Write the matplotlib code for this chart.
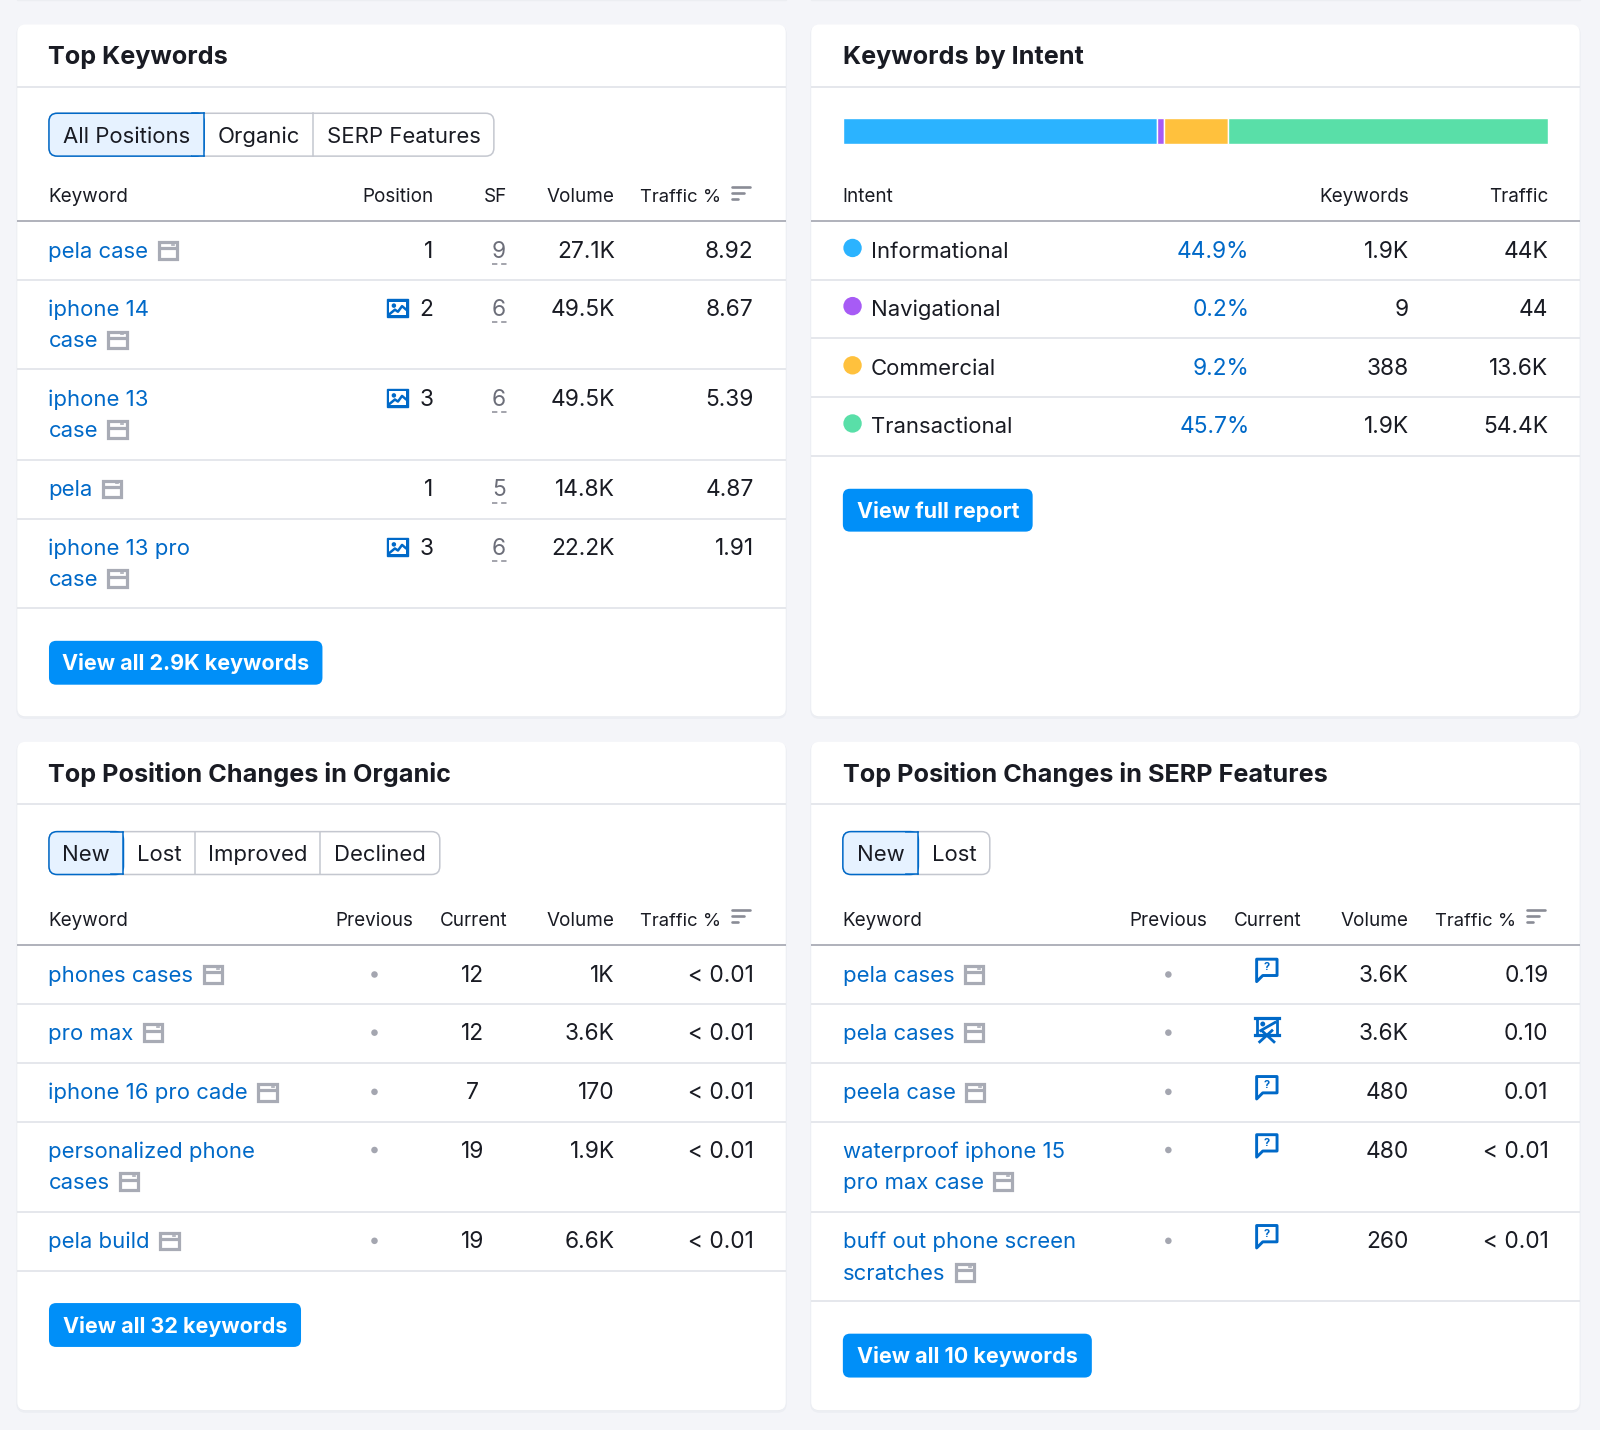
import matplotlib
matplotlib.use("Agg")
import matplotlib.pyplot as plt
from matplotlib.patches import FancyBboxPatch, Rectangle, Circle, Polygon

plt.rcParams['font.family'] = ['Inter', 'DejaVu Sans']

BG = '#f4f5f9'; INK = '#191b23'; LINK = '#0069c8'; RULE = '#e3e5ea'; HEAVY = '#a9abb5'
BTN = '#008ff8'; GREY = '#a4a6b0'
BODY = 15.9; NUM = 16.4; HEAD = 13.6; TITLE = 18.15; BOLD = 15.5

# ---- data ----
top_tabs = ['All Positions', 'Organic', 'SERP Features']
top_keywords = [['pela case'], ['iphone 14', 'case'], ['iphone 13', 'case'], ['pela'], ['iphone 13 pro', 'case']]
top_position = [1, 2, 3, 1, 3]
top_image_icon = [False, True, True, False, True]
top_sf = [9, 6, 6, 5, 6]
top_volume = ['27.1K', '49.5K', '49.5K', '14.8K', '22.2K']
top_traffic = ['8.92', '8.67', '5.39', '4.87', '1.91']

intent_names = ['Informational', 'Navigational', 'Commercial', 'Transactional']
intent_pct = ['44.9%', '0.2%', '9.2%', '45.7%']
intent_keywords = ['1.9K', '9', '388', '1.9K']
intent_traffic = ['44K', '44', '13.6K', '54.4K']
intent_bar_share = [44.9, 1.0, 9.2, 45.7]
intent_colors = ['#2bb3ff', '#a75bf5', '#ffc13d', '#59dfa8']

org_tabs = ['New', 'Lost', 'Improved', 'Declined']
org_keywords = [['phones cases'], ['pro max'], ['iphone 16 pro cade'], ['personalized phone', 'cases'], ['pela build']]
org_current = [12, 12, 7, 19, 19]
org_volume = ['1K', '3.6K', '170', '1.9K', '6.6K']
org_traffic = ['< 0.01'] * 5

serp_tabs = ['New', 'Lost']
serp_keywords = [['pela cases'], ['pela cases'], ['peela case'], ['waterproof iphone 15', 'pro max case'], ['buff out phone screen', 'scratches']]
serp_current_icon = ['q', 'chart', 'q', 'q', 'q']
serp_volume = ['3.6K', '3.6K', '480', '480', '260']
serp_traffic = ['0.19', '0.10', '0.01', '< 0.01', '< 0.01']

# ---- canvas: coordinates are in a 1568 wide layout ----
W, H = 1568, 1401.4
fig = plt.figure(figsize=(16, 14.3), dpi=100, facecolor=BG)
ax = fig.add_axes([0, 0, 1, 1])
ax.set_xlim(0, W); ax.set_ylim(H, 0); ax.axis('off')
renderer = fig.canvas.get_renderer()


def txt(x, y, s, ha='left', color=INK, size=BODY, weight='normal', dy=7.5, **kw):
    return ax.text(x, y + dy, s, ha=ha, va='baseline', color=color, fontsize=size, fontweight=weight, **kw)


def num(x, y, s, ha='right', color=INK):
    return txt(x, y, s, ha=ha, color=color, size=NUM)


def card(x0, y0, x1, y1):
    ax.add_patch(FancyBboxPatch((x0 + 8, y0 + 9.5), x1 - x0 - 16, y1 - y0 - 16, boxstyle='round,pad=8,rounding_size=8',
                                fc='#e7e9ee', ec='#eceef3', lw=1.5, zorder=0.5))
    ax.add_patch(FancyBboxPatch((x0 + 8, y0 + 8), x1 - x0 - 16, y1 - y0 - 16, boxstyle='round,pad=8,rounding_size=8',
                                fc='white', ec='none', zorder=1))


def rule(x0, x1, y, heavy=False):
    y = y + 0.4
    ax.plot([x0, x1], [y, y], color=HEAVY if heavy else RULE, lw=1.3, zorder=2, solid_capstyle='butt')


def tabs(labels, seps, y0, y1):
    x0, x1 = seps[0], seps[-1]
    ax.add_patch(FancyBboxPatch((x0 + 8, y0 + 8), x1 - x0 - 16, y1 - y0 - 16, boxstyle='round,pad=8,rounding_size=8',
                                fc='white', ec='#c4c7cf', lw=1.1, zorder=2))
    ax.add_patch(FancyBboxPatch((x0 + 8, y0 + 8), seps[1] - x0 - 16, y1 - y0 - 16, boxstyle='round,pad=8,rounding_size=8',
                                fc='#e6f2ff', ec=LINK, lw=1.1, zorder=3))
    ax.add_patch(Rectangle((seps[1] - 12, y0 + .6), 11.6, y1 - y0 - 1.2, fc='#e6f2ff', ec='none', zorder=5))
    ax.plot([seps[1], seps[1]], [y0, y1], color=LINK, lw=1.1, zorder=6)
    ax.plot([seps[1] - 12, seps[1]], [y0, y0], color=LINK, lw=1.1, zorder=6)
    ax.plot([seps[1] - 12, seps[1]], [y1, y1], color=LINK, lw=1.1, zorder=6)
    for s in seps[2:-1]:
        ax.plot([s, s], [y0, y1], color='#c4c7cf', lw=1.1, zorder=3)
    for lab, a, b in zip(labels, seps[:-1], seps[1:]):
        ax.text((a + b) / 2, (y0 + y1) / 2 + 8, lab, ha='center', va='baseline', fontsize=BODY, color=INK, zorder=7)


def button(x0, x1, y0, y1, s):
    ax.add_patch(FancyBboxPatch((x0 + 7, y0 + 7), x1 - x0 - 14, y1 - y0 - 14, boxstyle='round,pad=7,rounding_size=7',
                                fc=BTN, ec='none', zorder=3))
    ax.text((x0 + x1) / 2, (y0 + y1) / 2 + 7.5, s, ha='center', va='baseline', color='white', fontsize=BOLD,
            fontweight='bold', zorder=4)


def page_icon(x, y):
    c = '#a8abb5'
    ax.add_patch(Rectangle((x, y - 8), 18, 16.5, fc='none', ec=c, lw=2.3, zorder=4))
    ax.plot([x, x + 18], [y - 2, y - 2], color=c, lw=2.3, zorder=4, solid_capstyle='butt')
    ax.plot([x + 13, x + 15], [y - 5.2, y - 5.2], color=c, lw=1.2, zorder=4)


def image_icon(x, y):
    ax.add_patch(Rectangle((x, y - 9), 21, 18, fc=LINK, ec=LINK, lw=1, zorder=4))
    ax.add_patch(Rectangle((x + 2.5, y - 6.5), 16, 13, fc='white', ec='none', zorder=5))
    ax.add_patch(Circle((x + 7, y - 2.5), 2.2, fc=LINK, ec='none', zorder=6))
    ax.plot([x + 2.5, x + 8, x + 11, x + 15, x + 18.5], [y + 6, y + 1.5, y + 3.5, y - 2, y + 1],
            color=LINK, lw=1.8, zorder=6)


def q_icon(cx, cy):
    ax.add_patch(Polygon([[cx - 10, cy - 11], [cx + 10, cy - 11], [cx + 10, cy + 5], [cx - 4, cy + 5],
                          [cx - 10, cy + 11]], closed=True, fc='white', ec=LINK, lw=2.1, zorder=4, joinstyle='round'))
    ax.text(cx, cy - 3, '?', ha='center', va='center', fontsize=8, color=LINK, fontweight='bold', zorder=5)


def chart_icon(cx, cy):
    ax.plot([cx - 12, cx + 12], [cy - 11, cy - 11], color=LINK, lw=2.3, zorder=4)
    ax.plot([cx - 12, cx + 12], [cy + 5, cy + 5], color=LINK, lw=2.3, zorder=4)
    ax.plot([cx - 10, cx - 10], [cy - 11, cy + 5], color=LINK, lw=2.0, zorder=4)
    ax.plot([cx + 10, cx + 10], [cy - 11, cy + 5], color=LINK, lw=2.0, zorder=4)
    ax.plot([cx - 7, cx + 5], [cy + 12, cy + 1], color=LINK, lw=2.0, zorder=4)
    ax.plot([cx + 7, cx - 5], [cy + 12, cy + 1], color=LINK, lw=2.0, zorder=4)
    ax.plot([cx - 6, cx + 8], [cy + 1, cy - 7], color=LINK, lw=2.0, zorder=4)
    ax.add_patch(Circle((cx - 4, cy - 5.5), 2.4, fc=LINK, ec='none', zorder=5))


def sort_icon(x, y):
    for i, w in enumerate([18, 12, 6]):
        ax.plot([x, x + w], [y - 6 + i * 6, y - 6 + i * 6], color='#8a8c96', lw=1.9, zorder=4, solid_capstyle='round')


def keyword(x, y, lines):
    for i, ln in enumerate(lines):
        t = txt(x - 0.5, y + i * 31, ln, color=LINK)
    bb = t.get_window_extent(renderer).transformed(ax.transData.inverted())
    page_icon(bb.x1 + 10, y + (len(lines) - 1) * 31)


def header(items, y):
    for s, x, ha in items:
        txt(x, y, s, ha=ha, size=13.3 if s.startswith('Traffic %') else HEAD, dy=6.5)


# ---- previous card sliver at the very top ----
ax.add_patch(Rectangle((17, -8), 753, 8.4, fc='white', ec='#eceef2', lw=1, zorder=1))
ax.add_patch(Rectangle((795, -8), 753, 8.4, fc='white', ec='#eceef2', lw=1, zorder=1))

# ---- Top Keywords ----
card(17, 24, 770, 702)
txt(47.5, 55, 'Top Keywords', size=TITLE, weight='bold')
rule(17, 770, 85)
tabs(top_tabs, [48, 200, 307, 484], 111, 153)
header([('Keyword', 47, 'left'), ('Position', 424.5, 'right'), ('SF', 496.5, 'right'), ('Volume', 602.5, 'right'),
        ('Traffic %', 707, 'right')], 191)
sort_icon(717, 189)
rule(17, 770, 216, True)
row_y = [245, 302, 390, 479, 536]
for b in [274, 361, 450, 508, 595]:
    rule(17, 770, b)
for y, k, p, im, sf, v, tr in zip(row_y, top_keywords, top_position, top_image_icon, top_sf, top_volume, top_traffic):
    keyword(48, y, k)
    num(424.5, y, str(p))
    if im:
        image_icon(379, y)
    num(489, y, str(sf), ha='center', color='#6c6e79')
    ax.plot([482, 497], [y + 14, y + 14], color='#8a8c96', lw=1.1, ls=(0, (3.5, 2.5)), zorder=3)
    num(602.5, y, v)
    num(738.5, y, tr)
button(48, 316, 628, 671, 'View all 2.9K keywords')

# ---- Keywords by Intent ----
card(795, 24, 1548, 702)
txt(826, 55, 'Keywords by Intent', size=TITLE, weight='bold')
rule(795, 1548, 85)
left = 826
unit = (1517 - 826) / sum(intent_bar_share)
for share, col in zip(intent_bar_share, intent_colors):
    ax.barh(128.5, share * unit, left=left, height=25, color=col, edgecolor='white', linewidth=1.0, zorder=3)
    left += share * unit
header([('Intent', 826, 'left'), ('Keywords', 1380.5, 'right'), ('Traffic', 1517.5, 'right')], 191)
rule(795, 1548, 216, True)
intent_y = [245, 302, 360, 417]
for b in [274, 331, 389, 446]:
    rule(795, 1548, b)
for y, n, p, k, tr, col in zip(intent_y, intent_names, intent_pct, intent_keywords, intent_traffic, intent_colors):
    ax.add_patch(Circle((835.5, y - 2), 9, fc=col, ec='none', zorder=3))
    txt(853.5, y, n)
    num(1224.5, y, p, color=LINK)
    num(1380.5, y, k)
    num(1517.5, y, tr)
button(826, 1012, 479, 521, 'View full report')

# ---- Top Position Changes in Organic ----
card(17, 727, 770, 1382)
txt(47.5, 758.8, 'Top Position Changes in Organic', size=TITLE, weight='bold')
rule(17, 770, 788)
tabs(org_tabs, [48, 121, 191, 314, 431], 815, 857)
header([('Keyword', 47, 'left'), ('Previous', 405, 'right'), ('Current', 497, 'right'), ('Volume', 602.5, 'right'),
        ('Traffic %', 707, 'right')], 900.5)
sort_icon(717, 898)
rule(17, 770, 926, True)
oy = [955, 1012, 1070, 1127, 1216]
for b in [984, 1041, 1099, 1187, 1245]:
    rule(17, 770, b)
for y, k, c, v, tr in zip(oy, org_keywords, org_current, org_volume, org_traffic):
    keyword(48, y, k)
    ax.add_patch(Circle((367, y), 3.2, fc=GREY, ec='none', zorder=3))
    num(463, y, str(c), ha='center')
    num(602.5, y, v)
    num(738.5, y, tr)
button(48, 295, 1277, 1320, 'View all 32 keywords')

# ---- Top Position Changes in SERP Features ----
card(795, 727, 1548, 1382)
txt(826, 758.8, 'Top Position Changes in SERP Features', size=TITLE, weight='bold')
rule(795, 1548, 788)
tabs(serp_tabs, [826, 900, 970], 815, 857)
header([('Keyword', 826, 'left'), ('Previous', 1183.5, 'right'), ('Current', 1275.5, 'right'), ('Volume', 1380.5, 'right'),
        ('Traffic %', 1485.5, 'right')], 900.5)
sort_icon(1496, 898)
rule(795, 1548, 926, True)
for b in [984, 1041, 1099, 1187, 1275]:
    rule(795, 1548, b)
for y, k, ic, v, tr in zip(oy, serp_keywords, serp_current_icon, serp_volume, serp_traffic):
    keyword(826.5, y, k)
    ax.add_patch(Circle((1145, y), 3.2, fc=GREY, ec='none', zorder=3))
    if ic == 'q':
        q_icon(1241.5, y - 4)
    else:
        chart_icon(1241.5, y - 3)
    num(1380.5, y, v)
    num(1517.5, y, tr)
button(826, 1070, 1307, 1350, 'View all 10 keywords')

fig.savefig('out.png', dpi=100, facecolor=BG)
